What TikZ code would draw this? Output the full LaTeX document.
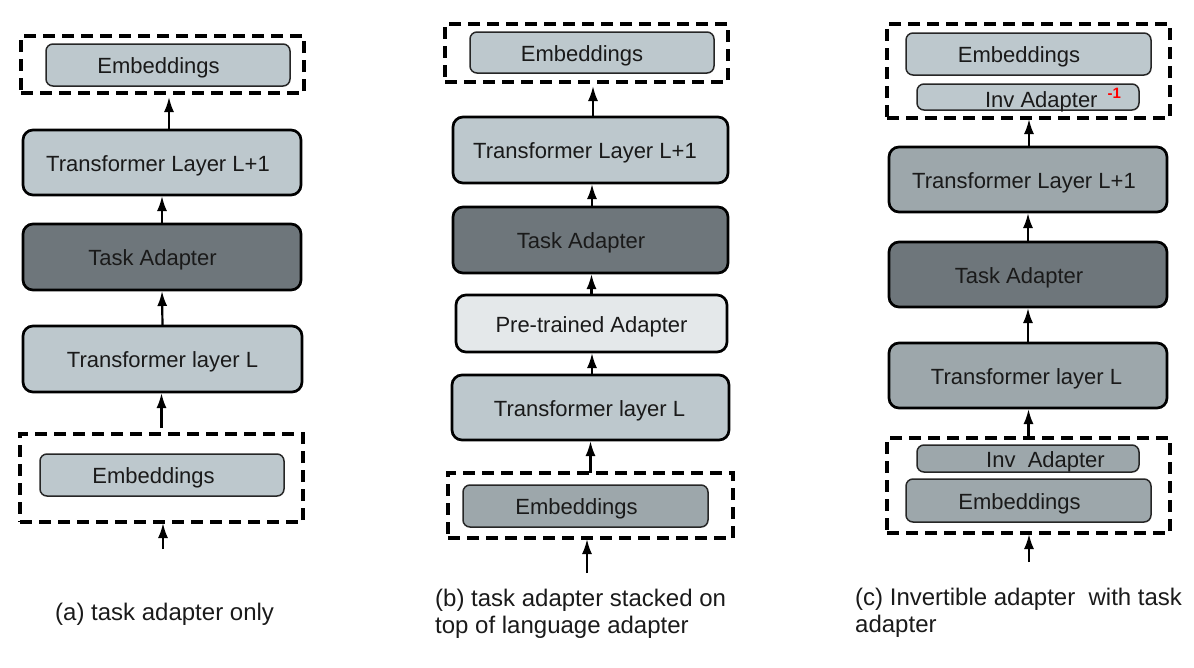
\documentclass[tikz,border=0pt]{standalone}
\usepackage{fontspec}
\setmainfont{Liberation Sans}
\usetikzlibrary{arrows.meta,calc}
\definecolor{lightbox}{HTML}{BDC8CD}
\definecolor{darkbox}{HTML}{6E767B}
\definecolor{prebox}{HTML}{E4E8EA}
\definecolor{midbox}{HTML}{9DA7AB}
\definecolor{txt}{HTML}{1A1A1A}
\begin{document}
\begin{tikzpicture}[x=1pt,y=-1pt,
  base/.style={inner sep=0pt, outer sep=0pt, text=txt, font=\fontsize{22}{26}\selectfont, text height=17pt, text depth=0pt},
  bigbox/.style={base, draw=black, line width=2.7pt, rounded corners=10pt},
  smallbox/.style={base, draw=black!85, line width=1.5pt, rounded corners=7pt},
  dashbox/.style={base, draw=black, line width=3.7pt, dash pattern=on 12pt off 7pt},
  arr/.style={line width=2.2pt, -{Latex[length=15pt,width=10pt]}, shorten >=1pt},
  captxt/.style={font=\fontsize{24}{27.5}\selectfont, text=txt, align=left, anchor=west, inner sep=0pt}]
\useasboundingbox (0,0) rectangle (1194,667);

% ---------------- panel (a) ----------------
\node[dashbox, minimum width=283pt, minimum height=57pt] (topA) at (162.5,64.5) {};
\node[smallbox, fill=lightbox, minimum width=244pt, minimum height=42pt] (embA1) at (168,65) {\hspace*{-19pt}Embeddings};
\node[bigbox, fill=lightbox, minimum width=278pt, minimum height=65pt] (tl1a) at (162,162.5) {\hspace*{-8pt}Transformer Layer L+1};
\node[bigbox, fill=darkbox, minimum width=278pt, minimum height=66pt] (taa) at (162,257) {\hspace*{-19pt}Task Adapter};
\node[bigbox, fill=lightbox, minimum width=279pt, minimum height=66pt] (tla) at (162.5,359) {Transformer layer L};
\node[dashbox, minimum width=283pt, minimum height=88pt] (botA) at (161.5,478) {};
\node[smallbox, fill=lightbox, minimum width=244pt, minimum height=42pt] (embA2) at (162,475) {\hspace*{-17pt}Embeddings};
\coordinate (inA) at (163,549);
\node[captxt] (capA) at (55,614) {(a) task adapter only};

\draw[arr, shorten >=4pt] ([xshift=7pt]tl1a.north) -- ([xshift=7pt]tl1a.north |- topA.south);
\draw[arr] (taa.north) -- (tl1a.south);
\draw[arr] (tla.north) -- (taa.south);
\draw[arr, shorten <=6pt] (botA.north) -- (botA.north |- tla.south);
\draw[arr] (inA) -- (inA |- botA.south);

% ---------------- panel (b) ----------------
\node[dashbox, minimum width=283pt, minimum height=58pt] (topB) at (586.5,53) {};
\node[smallbox, fill=lightbox, minimum width=244pt, minimum height=41pt] (embB1) at (592,52.5) {\hspace*{-20pt}Embeddings};
\node[bigbox, fill=lightbox, minimum width=275pt, minimum height=66pt] (tl1b) at (590.5,150) {\hspace*{-11pt}Transformer Layer L+1};
\node[bigbox, fill=darkbox, minimum width=275pt, minimum height=66pt] (tab) at (590.5,240) {\hspace*{-19pt}Task Adapter};
\node[bigbox, fill=prebox, minimum width=271pt, minimum height=57pt] (ptb) at (591.5,323.5) {Pre-trained Adapter};
\node[bigbox, fill=lightbox, minimum width=277pt, minimum height=65pt] (tlb) at (590.5,407.5) {\hspace*{-2pt}Transformer layer L};
\node[dashbox, minimum width=285pt, minimum height=65pt] (botB) at (590.5,505.5) {};
\node[smallbox, fill=midbox, minimum width=245pt, minimum height=42pt] (embB2) at (585.5,506) {\hspace*{-18pt}Embeddings};
\coordinate (inB) at (587,573);
\node[captxt] (capB) at (435,614) {(b) task adapter stacked on\\top of language adapter};

\draw[arr, shorten >=4pt] ([xshift=2.5pt]tl1b.north) -- ([xshift=2.5pt]tl1b.north |- topB.south);
\draw[arr] ([xshift=1.5pt]tab.north) -- ([xshift=1.5pt]tab.north |- tl1b.south);
\draw[arr] (ptb.north) -- (ptb.north |- tab.south);
\draw[arr] ([xshift=1.5pt]tlb.north) -- ([xshift=1.5pt]tlb.north |- ptb.south);
\draw[arr] (botB.north) -- (botB.north |- tlb.south);
\draw[arr] (inB) -- (inB |- botB.south);

% ---------------- panel (c) ----------------
\node[dashbox, minimum width=283pt, minimum height=94pt] (topC) at (1028.5,71) {};
\node[smallbox, fill=lightbox, minimum width=245pt, minimum height=42pt] (embC1) at (1028.5,54) {\hspace*{-19pt}Embeddings};
\node[smallbox, fill=lightbox, minimum width=222pt, minimum height=26pt, text height=20pt] (invC1) at (1028,97) {\hspace*{50pt}Inv Adapter\hspace{10pt}\raisebox{9pt}{\fontsize{15}{15}\selectfont\bfseries\color{red}-1}};
\node[bigbox, fill=midbox, minimum width=278pt, minimum height=65pt] (tl1c) at (1028,179.5) {\hspace*{-8pt}Transformer Layer L+1};
\node[bigbox, fill=darkbox, minimum width=278pt, minimum height=65pt] (tac) at (1028,274.5) {\hspace*{-18pt}Task Adapter};
\node[bigbox, fill=midbox, minimum width=278pt, minimum height=65pt] (tlc) at (1028,375.5) {\hspace*{-3pt}Transformer layer L};
\node[dashbox, minimum width=283pt, minimum height=95pt] (botC) at (1028.5,485.5) {};
\node[smallbox, fill=midbox, minimum width=222pt, minimum height=27pt] (invC2) at (1028,458.5) {\hspace*{35pt}Inv\ \ Adapter};
\node[smallbox, fill=midbox, minimum width=245pt, minimum height=43pt] (embC2) at (1028.5,500.5) {\hspace*{-18pt}Embeddings};
\coordinate (inC) at (1029,562);
\node[captxt] (capC) at (855,613) {(c) Invertible adapter\ \ with task\\adapter};

\draw[arr] ([xshift=1pt]tl1c.north) -- ([xshift=1pt]tl1c.north |- topC.south);
\draw[arr] (tac.north) -- (tl1c.south);
\draw[arr] (tlc.north) -- (tac.south);
\draw[arr] (botC.north) -- (botC.north |- tlc.south);
\draw[arr] (inC) -- (inC |- botC.south);
\end{tikzpicture}
\end{document}
